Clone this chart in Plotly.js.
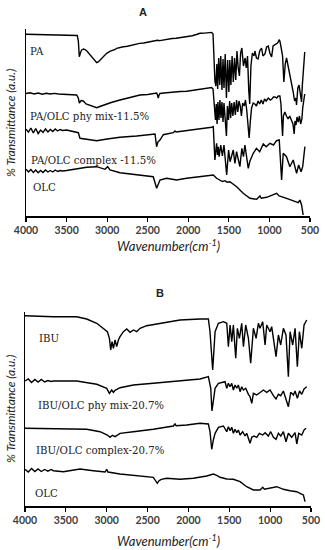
<!DOCTYPE html>
<html><head><meta charset="utf-8">
<script src="https://cdn.plot.ly/plotly-3.0.1.min.js"></script>
<style>html,body{margin:0;padding:0;background:#fff}#c{width:325px;height:550px}</style>
</head><body><div id="c"></div>
<script>
// ---------- Panel A (y in a.u., offset stacked) ----------
var paWn = [4000,3850,3700,3550,3400,3368,3355,3343,3330,3314,3290,3273,3250,3232,3200,3171,3145,3129,3110,3088,3050,3006,2960,2930,2900,2883,2850,2800,2750,2700,2678,2630,2600,2550,2500,2472,2420,2380,2350,2300,2267,2200,2150,2100,2062,2000,1950,1900,1856,1800,1750,1712,1695,1685,1672,
1660,1648,1638,1625,1612,1600,1585,1572,1560,1545,1530,1515,1500,1488,1475,1460,1445,1430,1415,1400,1385,1370,1355,1340,1320,1300,1285,1270,1255,1243,1228,1210,1190,1179,1160,1140,1120,1097,1080,1055,1035,1014,995,973,955,932,900,880,871,855,838,822,805,789,770,748,727,707,690,675,666,650,635,624,612,604,595,583,565];
var paY  = [181.7,181.5,181.3,181.2,180.8,180.5,175,159.3,163,166,167,166.5,165,163.3,160.5,157.7,154.5,153.3,154,156,159.5,162.7,164.8,165.5,166.5,167.7,168,169.2,169.8,170.8,171,171.8,172.6,173,173.8,174.3,175,175.8,175.4,176.3,176.7,177.5,177.8,178.3,178.7,179.5,180.3,181.5,182.7,182.9,183.3,183.6,182,160,135,
130,152,127,158,131,160,126,157,128,162,118,156,124,156,131,160,134,158,136,165,148,140,163,168,150,158,148,160,126,112,150,163,160,165,158,157,165,168,160,162,169,170,163,159,170,171,173,176,175,168,160,134,152,158,150,144,135,124,115,118,111,128,131,126,118,114,130,148,164];

var pmAWn = [4000,3950,3900,3850,3800,3750,3700,3650,3600,3500,3400,3376,3355,3343,3320,3294,3260,3200,3129,3090,3006,2950,2842,2750,2636,2595,2500,2432,2400,2390,2380,2370,2360,2349,2300,2200,2100,2020,1900,1774,1712,1695,1685,1675,
1665,1655,1645,1635,1622,1610,1597,1585,1572,1560,1545,1530,1518,1505,1490,1478,1465,1450,1435,1420,1405,1390,1375,1360,1345,1330,1310,1295,1280,1265,1250,1235,1220,1200,1180,1160,1140,1120,1100,1080,1060,1040,1014,990,970,950,932,910,890,871,858,848,838,828,810,790,770,750,730,710,695,685,672,660,645,630,615,600,590,575,565];
var pmAY  = [122.5,123.2,122,123,121.8,122.8,122,122.6,122,121.8,121.5,121,118,113,115.5,115,112,110,108.3,109.5,112,113.5,116,118,120,121,121.5,122,122.5,123,121,118,121,122.5,123,124,124.5,124.8,126,127.5,128.5,127,115,100,
96,112,92,114,96,116,98,114,94,113,100,80,110,96,115,98,113,100,114,101,116,104,115,110,100,113,110,116,106,88,78,95,108,113,112,110,115,112,116,112,117,115,118,116,117,119,119,118,120,120,112,95,80,100,104,100,97,100,96,92,82,95,91,99,94,100,92,97,108,121,122];

var cxAWn = [4000,3970,3940,3910,3880,3850,3820,3790,3760,3730,3700,3670,3640,3610,3580,3550,3500,3458,3400,3355,3335,3252,3129,3000,2842,2636,2432,2410,2390,2375,2349,2308,2185,2164,2150,2020,1900,1774,1712,1692,1672,
1651,1640,1630,1620,1600,1580,1560,1527,1503,1485,1446,1425,1405,1364,1340,1320,1302,1261,1240,1199,1160,1120,1076,1040,994,950,912,879,850,830,790,748,707,665,640,610,590,563];
var cxAY  = [86.7,84,88,83,87.5,82.5,86,83.5,87,84,86.5,84.5,87,85,86.5,85.5,86,85.3,84.5,83.3,77.7,76.7,75.3,77,78.7,80,82,82,69.3,74,76,81.3,83.3,85,84,85.3,86.5,87.7,88.8,89.3,56,
72.7,61,69.3,59.3,71,60,71,41,66,54.3,66,52.7,64.3,49.3,67.7,59.3,71,47.7,55,62.7,67.7,64.3,72,69.3,72.7,71,75.3,76,36,62.7,59.3,49.3,56,42.7,51,44.3,49.3,69.3];

var olAWn = [4000,3970,3940,3910,3880,3850,3820,3790,3760,3730,3700,3670,3640,3610,3580,3550,3500,3458,3335,3252,3129,3026,2994,2965,2842,2636,2432,2390,2375,2349,2267,2144,2020,1774,1692,1651,1610,1580,1548,1520,1487,1404,1323,1240,1158,1117,1100,1035,911,880,788,707,645,624,604,584];
var olAY  = [46.7,44,46.5,43.5,46,43.3,45.5,43.5,46,44,45.5,44,46,44.5,45.5,45,45.5,46,47.7,48.7,49.3,46.7,49.3,46,43.3,41,39.3,27.7,31,36,37.7,36,37.7,40,41,37.7,36,34.5,35.3,33.8,34.3,29.3,22.7,17.7,16.7,20,17.7,18.7,22.7,20,17.7,15.3,13.3,16,11,1];

// ---------- Panel B ----------
var ibWn = [4000,3653,3367,3245,3122,3041,2992,2967,2951,2935,2918,2898,2878,2857,2837,2796,2755,2714,2674,2633,2592,2511,2348,2103,1858,1756,1736,1715,1703,
1674,1633,1572,1531,1511,1490,1470,1450,1421,1401,1376,1348,1327,1299,1266,1238,1205,1172,1144,1124,1091,1062,1042,1001,981,952,928,899,871,838,806,777,756,724,695,667,642,613,585,552];
var ibY  = [190.3,189.3,189.3,187,182.7,177.7,174.3,167.7,156,164.3,157.7,166,159.3,166,169.3,174.3,177,173.7,176,174.3,177.7,180.3,182.7,186,187,187,174.3,151,136,
174.3,182.7,184.3,182.7,159.3,181,164.3,181,147.7,177.7,167.7,182.7,159.3,181,167.7,142.7,177.7,167.7,182.7,177.7,184.3,161,181,174.3,179.3,164.3,149.3,171,161,177.7,171,129.3,174.3,161,177.7,139.3,174.3,157.7,181,186];

var pmBWn = [4000,3960,3920,3880,3840,3800,3760,3720,3680,3653,3500,3367,3122,3000,2967,2939,2918,2898,2837,2674,2430,2103,1858,1756,1727,1712,
1674,1633,1552,1531,1511,1490,1470,1450,1430,1409,1389,1368,1348,1327,1299,1266,1246,1225,1205,1164,1124,1083,1042,1001,960,928,899,870,838,815,777,748,715,695,667,640,613,585,552];
var pmBY  = [125,127,123.5,126.5,124,126.5,124,125.5,124.5,125,125,125,121.7,117.7,112.7,116,113.7,115.7,118.3,121,122.7,125,127,129.3,117.7,95,
117.7,122.7,124.3,117.7,122.7,119.3,122.7,116,121,117.7,121,114.3,119.3,116,117.7,111.7,109.3,102.7,112.7,111,113.7,116,113.7,116,110.3,107,111.7,110.3,115,109.3,99.3,113.7,111,115,107.7,115,111.7,117,119.3];

var cxBWn = [4000,3653,3245,3082,2992,2959,2930,2898,2837,2674,2430,2185,2164,2150,2022,1858,1756,1736,1715,1695,
1674,1633,1572,1531,1511,1490,1470,1450,1430,1409,1389,1368,1336,1307,1287,1246,1225,1197,1164,1132,1091,1062,1022,993,960,928,899,870,838,806,777,736,695,674,650,613,585,561];
var cxBY  = [77.7,77.3,76.7,74.3,71,68.7,70.7,69.3,72.7,74.3,76.7,80,82,80.3,81,82.7,82,74.3,56.7,66,
72.7,78.7,80,74.3,79.3,75.3,78.7,72.7,76.7,73.3,76,71,74.3,70,72.7,62.7,68.7,70,68.7,72.7,71,73.3,70,74.3,68.7,66.7,72.7,70,74.3,64.3,72.7,68.7,73.3,62,72.7,71,76,77.7];

var olBWn = [4000,3960,3920,3880,3840,3800,3760,3720,3680,3653,3530,3408,3327,3163,3020,3000,2985,2837,2633,2430,2381,2360,2332,2266,2103,1940,1776,1695,1654,1613,1531,1450,1368,1287,1205,1124,1091,1070,919,838,756,674,634,593,573];
var olBY  = [36.7,34,37.5,34.5,37,34.5,36.5,34.8,36.5,35.3,34.3,36,37,35.3,34,36.7,34,32,30,28.7,22.7,25.3,26.7,27.7,26.7,27.7,30,32,30.7,28.7,27,26.7,24.3,19.3,16,16,18.7,16.7,19.3,16.7,15.3,14.3,12.7,11,4.3];

// ---------- Labels ----------
var panelTitles = ['A','B'];
var seriesLabelsA = ['PA','PA/OLC phy mix-11.5%','PA/OLC complex -11.5%','OLC'];
var seriesLabelsB = ['IBU','IBU/OLC phy mix-20.7%','IBU/OLC complex-20.7%','OLC'];
var xTickVals = [4000,3500,3000,2500,2000,1500,1000,500];
var xTitle = '<i>Wavenumber(cm<sup>-1</sup>)</i>';
var yTitle = '<i>% Transmittance (a.u.)</i>';

var W = 325, H = 550;
function PX(p){return p/W;}
function PY(p){return 1 - p/H;}

var ln = {color:'#000', width:1.4};
var traces = [
  {x:paWn, y:paY, xaxis:'x', yaxis:'y'},
  {x:pmAWn, y:pmAY, xaxis:'x', yaxis:'y'},
  {x:cxAWn, y:cxAY, xaxis:'x', yaxis:'y'},
  {x:olAWn, y:olAY, xaxis:'x', yaxis:'y'},
  {x:ibWn, y:ibY, xaxis:'x2', yaxis:'y2'},
  {x:pmBWn, y:pmBY, xaxis:'x2', yaxis:'y2'},
  {x:cxBWn, y:cxBY, xaxis:'x2', yaxis:'y2'},
  {x:olBWn, y:olBY, xaxis:'x2', yaxis:'y2'}
].map(function(t){t.type='scatter';t.mode='lines';t.line=ln;t.hoverinfo='skip';return t;});

function xax(dom, anchor){
  return {domain:dom, anchor:anchor, range:[4000,500], autorange:false,
    tickvals:xTickVals, ticks:'outside', ticklen:4, tickwidth:1.2, tickcolor:'#000',
    showline:true, linecolor:'#000', linewidth:1.5, showgrid:false, zeroline:false,
    tickfont:{family:'Lato', size:10.5, color:'#404040', weight:'bold'}};
}
function yax(dom, anchor, top){
  return {domain:dom, anchor:anchor, range:[0,top], autorange:false,
    showline:true, linecolor:'#000', linewidth:1.5, showgrid:false, zeroline:false,
    showticklabels:false, ticks:''};
}

var serif = {family:'DejaVu Serif', size:10.2, color:'#222'};
var ann = [];
function lab(t, px, py, f){ann.push({text:t, xref:'paper', yref:'paper', x:PX(px), y:PY(py), xanchor:'left', yanchor:'middle', showarrow:false, font:f||serif});}
function ctr(t, px, py, f, ang){ann.push({text:t, xref:'paper', yref:'paper', x:PX(px), y:PY(py), xanchor:'center', yanchor:'middle', showarrow:false, font:f, textangle:ang||0});}

var titleFont = {family:'Liberation Sans', size:11, color:'#222', weight:'bold'};
ctr(panelTitles[0], 143, 12, titleFont);
ctr(panelTitles[1], 160, 293, titleFont);

lab(seriesLabelsA[0], 28, 52);
lab(seriesLabelsA[1], 28, 116);
lab(seriesLabelsA[2], 29, 160);
lab(seriesLabelsA[3], 31, 187);
lab(seriesLabelsB[0], 37, 338);
lab(seriesLabelsB[1], 36, 405);
lab(seriesLabelsB[2], 34, 450);
lab(seriesLabelsB[3], 33, 493);

var axTitleFont = {family:'Lato', size:13, color:'#222'};
ctr(xTitle, 168, 245, axTitleFont);
ctr(xTitle, 168, 540, axTitleFont);
var yTitleFont = {family:'Lato', size:12, color:'#222'};
ctr(yTitle, 10, 123, yTitleFont, -90);
ctr(yTitle, 10, 409, yTitleFont, -90);

var layout = {
  width:W, height:H, margin:{l:0,r:0,t:0,b:0}, showlegend:false,
  paper_bgcolor:'#fff', plot_bgcolor:'#fff',
  xaxis: xax([PX(26), PX(310)], 'y'),
  yaxis: yax([PY(216), PY(29)], 'x', 187),
  xaxis2: xax([PX(25), PX(311)], 'y2'),
  yaxis2: yax([PY(506), PY(312)], 'x2', 194),
  annotations: ann
};
Plotly.newPlot('c', traces, layout, {staticPlot:true, displayModeBar:false});
</script></body></html>
